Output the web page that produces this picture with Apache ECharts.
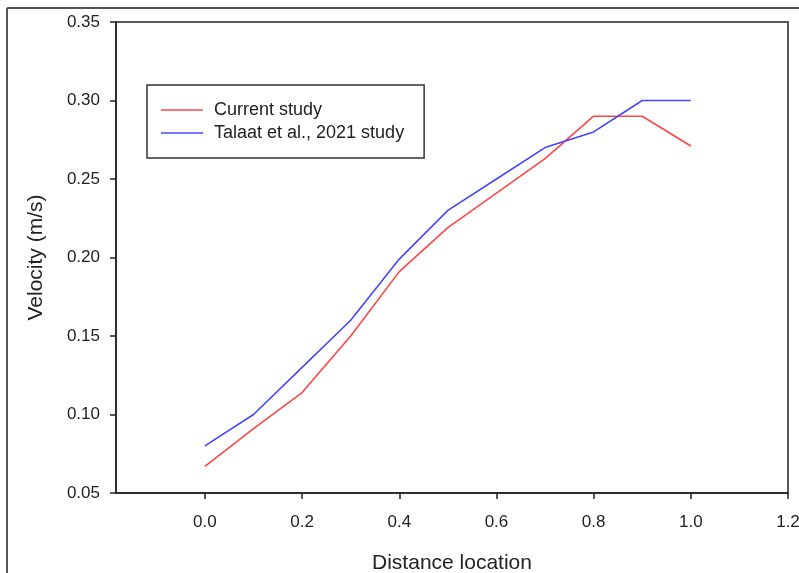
<!DOCTYPE html>
<html>
<head>
<meta charset="utf-8">
<script src="https://cdn.jsdelivr.net/npm/echarts@6/dist/echarts.min.js"></script>
<style>
  html, body { margin: 0; padding: 0; background: #fff; }
  #chart { width: 799px; height: 573px; }
</style>
</head>
<body>
<div id="chart"></div>
<script>
// 数据
var distance = [0.0, 0.1, 0.2, 0.3, 0.4, 0.5, 0.6, 0.7, 0.8, 0.9, 1.0];
var currentStudy = [0.067, 0.091, 0.114, 0.150, 0.191, 0.219, 0.241, 0.263, 0.290, 0.290, 0.271];
var talaatStudy = [0.080, 0.100, 0.130, 0.160, 0.199, 0.230, 0.250, 0.270, 0.280, 0.300, 0.300];
var xTicks = [0.0, 0.2, 0.4, 0.6, 0.8, 1.0, 1.2];

function pairs(ys) {
  return distance.map(function (x, i) { return [x, ys[i]]; });
}

(function () {
  var myChart = echarts.init(document.getElementById('chart'));
  var axisColor = '#222';
  var textStyle = { color: '#222', fontFamily: 'Liberation Sans, Arial, sans-serif' };
  var option = {
    animation: false,
    grid: {
      left: 116,
      right: 11,
      top: 22,
      bottom: 80,
      outerBoundsMode: 'none',
      containLabel: false,
      show: true,
      borderColor: axisColor,
      borderWidth: 1.5
    },
    // 外框
    graphic: [
      { type: 'line', shape: { x1: 7, y1: 8, x2: 7, y2: 573 }, style: { stroke: '#555', lineWidth: 2 } },
      { type: 'line', shape: { x1: 7, y1: 8, x2: 799, y2: 8 }, style: { stroke: '#555', lineWidth: 2 } }
    ],
    legend: {
      left: 147,
      top: 85,
      orient: 'vertical',
      padding: [15, 20, 15, 14],
      icon: 'rect',
      itemWidth: 42,
      itemHeight: 1.5,
      itemGap: 3,
      borderColor: '#333',
      borderWidth: 1.5,
      textStyle: {
        color: '#222',
        fontSize: 18,
        lineHeight: 20,
        fontFamily: 'Liberation Sans, Arial, sans-serif',
        padding: [0, 0, 0, 6]
      },
      data: ['Current study', 'Talaat et al., 2021 study']
    },
    xAxis: {
      type: 'value',
      min: -0.183,
      max: 1.2,
      name: 'Distance location',
      nameLocation: 'middle',
      nameGap: 60,
      nameTextStyle: Object.assign({ fontSize: 21 }, textStyle),
      splitLine: { show: false },
      axisLine: { onZero: false, lineStyle: { color: axisColor, width: 1.5 } },
      axisTick: {
        length: 6,
        customValues: xTicks,
        lineStyle: { color: axisColor, width: 1.5 }
      },
      axisLabel: Object.assign({
        fontSize: 17,
        margin: 21,
        customValues: xTicks,
        formatter: function (v) { return v.toFixed(1); }
      }, textStyle)
    },
    yAxis: {
      type: 'value',
      min: 0.05,
      max: 0.35,
      interval: 0.05,
      name: 'Velocity (m/s)',
      nameLocation: 'middle',
      nameGap: 69,
      nameTextStyle: Object.assign({ fontSize: 21 }, textStyle),
      splitLine: { show: false },
      axisLine: { onZero: false, lineStyle: { color: axisColor, width: 1.5 } },
      axisTick: { length: 6, lineStyle: { color: axisColor, width: 1.5 } },
      axisLabel: Object.assign({
        fontSize: 17,
        margin: 16,
        formatter: function (v) { return v.toFixed(2); }
      }, textStyle)
    },
    series: [
      {
        name: 'Current study',
        type: 'line',
        symbol: 'none',
        color: '#ff4646',
        lineStyle: { width: 1.6, color: '#ff4646' },
        data: pairs(currentStudy)
      },
      {
        name: 'Talaat et al., 2021 study',
        type: 'line',
        symbol: 'none',
        color: '#4646ff',
        lineStyle: { width: 1.6, color: '#4646ff' },
        data: pairs(talaatStudy)
      }
    ]
  };
  myChart.setOption(option);
  window.addEventListener('resize', function () {
    myChart.resize();
  });
})();
</script>
</body>
</html>
